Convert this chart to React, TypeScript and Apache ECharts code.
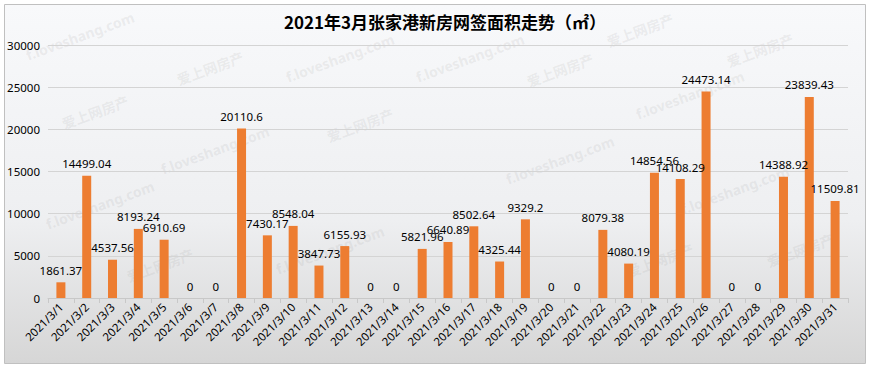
import React, { useEffect, useRef } from "react";
import * as echarts from "echarts";

const categories = Array.from({ length: 31 }, (_, i) => `2021/3/${i + 1}`);
const areaValues = [
  1861.37, 14499.04, 4537.56, 8193.24, 6910.69, 0, 0, 20110.6, 7430.17, 8548.04,
  3847.73, 6155.93, 0, 0, 5821.96, 6640.89, 8502.64, 4325.44, 9329.2, 0,
  0, 8079.38, 4080.19, 14854.56, 14108.29, 24473.14, 0, 0, 14388.92, 23839.43,
  11509.81,
];
const titleText = "2021年3月张家港新房网签面积走势（㎡）";
const yMin = 0;
const yMax = 30000;
const yInterval = 5000;

const watermarks: [string, number, number][] = [
  ["f.loveshang.com", 80, 36],
  ["爱上网房产", 95, 112],
  ["爱上网房产", 210, 68],
  ["f.loveshang.com", 215, 150],
  ["f.loveshang.com", 100, 205],
  ["爱上网房产", 160, 265],
  ["f.loveshang.com", 340, 58],
  ["爱上网房产", 360, 125],
  ["f.loveshang.com", 330, 250],
  ["f.loveshang.com", 470, 58],
  ["爱上网房产", 560, 70],
  ["f.loveshang.com", 560, 160],
  ["爱上网房产", 640, 30],
  ["爱上网房产", 660, 260],
  ["f.loveshang.com", 690, 95],
  ["爱上网房产", 760, 50],
  ["f.loveshang.com", 735, 190],
  ["爱上网房产", 800, 250],
];

export default function App() {
  const ref = useRef<HTMLDivElement>(null);
  useEffect(() => {
    document.body.style.margin = "0";
    const chart = echarts.init(ref.current!, undefined, { renderer: "svg" });
    const font = "Noto Sans";
    chart.setOption({
      animation: false,
      backgroundColor: "#ffffff",
      graphic: [
        {
          type: "rect",
          z: -10,
          silent: true,
          shape: { x: 4.5, y: 4.5, width: 861, height: 359 },
          style: {
            fill: new echarts.graphic.LinearGradient(0, 0, 0, 1, [
              { offset: 0, color: "#f8f9fb" },
              { offset: 0.6, color: "#eeeff1" },
              { offset: 1, color: "#d6d6d6" },
            ]),
            stroke: "#c0c0c0",
            lineWidth: 1,
          },
        },
        ...watermarks.map(([t, x, y]) => ({
          type: "text",
          z: -5,
          silent: true,
          x,
          y,
          rotation: (20 * Math.PI) / 180,
          style: {
            text: t,
            fill: "rgba(150,150,150,0.14)",
            font: `bold 14px ${t.startsWith("f") ? "Noto Sans" : "Noto Sans CJK SC"}`,
            textAlign: "center",
            textVerticalAlign: "middle",
          },
        })),
        {
          type: "text",
          x: 445,
          y: 21,
          style: {
            text: titleText,
            fill: "#000000",
            font: 'bold 17px "Noto Sans CJK SC"',
            textAlign: "center",
            textVerticalAlign: "middle",
          },
        },
      ],
      grid: { left: 48, right: 22, top: 45, bottom: 70 },
      xAxis: {
        type: "category",
        data: categories,
        axisLine: { lineStyle: { color: "#c8c8c8" } },
        axisTick: { show: true, length: 5, lineStyle: { color: "#c8c8c8" } },
        axisLabel: {
          rotate: 45,
          interval: 0,
          color: "#000000",
          fontFamily: font,
          fontSize: 11.5,
          margin: 7,
        },
      },
      yAxis: {
        type: "value",
        min: yMin,
        max: yMax,
        interval: yInterval,
        axisLine: { show: false },
        axisTick: { show: false },
        splitLine: { lineStyle: { color: "#d4d4d4" } },
        axisLabel: {
          color: "#000000",
          fontFamily: font,
          fontSize: 11.5,
          margin: 8,
          formatter: (v: number) => String(v),
        },
      },
      series: [
        {
          type: "bar",
          data: areaValues,
          barWidth: 9,
          itemStyle: { color: "#ed7d31" },
          label: {
            show: true,
            position: "top",
            distance: 6,
            color: "#000000",
            fontFamily: font,
            fontSize: 11.5,
          },
        },
      ],
    });
    return () => chart.dispose();
  }, []);
  return <div ref={ref} style={{ width: 870, height: 368 }} />;
}
